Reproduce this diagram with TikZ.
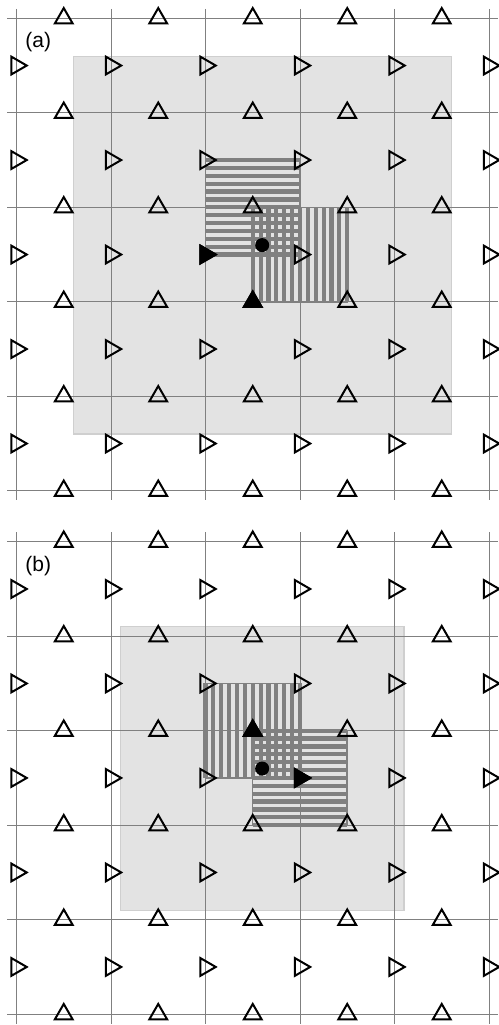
\documentclass[tikz,border=0pt]{standalone}
\usepackage{fontspec}
\setmainfont{Liberation Sans}
\usetikzlibrary{shapes.geometric}

\begin{document}
\begin{tikzpicture}[
    x=94.5pt,
    y=-94.5pt,
    gridline/.style={
        draw=black!50,
        line width=0.9pt
    },
    window/.style={
        fill=black!11,
        draw=black!19,
        line width=1.2pt
    },
    tri/.style={
        regular polygon,
        regular polygon sides=3,
        draw=black,
        line width=2pt,
        minimum size=20.5pt,
        inner sep=0pt,
        outer sep=0pt
    },
    tri up/.style={tri},
    tri right/.style={tri, rotate=-90},
    solid tri/.style={fill=black},
    stripe/.style={
        draw=black!50,
        line width=4.2pt
    },
    patch/.style={
        draw=black!50,
        line width=1.5pt
    },
    spot/.style={
        circle,
        fill=black,
        minimum size=14pt,
        inner sep=0pt
    },
    panel label/.style={
        font=\fontsize{21}{21}\selectfont,
        inner sep=0pt,
        anchor=base west
    }
]

\useasboundingbox (-0.1746,-0.1937) rectangle (5.1058,10.6534);

% --- Window (a): 4x4 around the spot ---
\begin{scope}
    \draw[window] (0.6,0.4) rectangle (4.6,4.4);
\end{scope}

% --- Window (b): 3x3 around the spot ---
\begin{scope}[shift={(0,5.539)}]
    \draw[window] (1.1,0.9) rectangle (4.1,3.9);
\end{scope}

% --- Grid, both panels ---
\foreach \p/\off in {a/0,b/5.539} {
    \begin{scope}[shift={(0,\off)}]
        \foreach \k in {0,...,5} {
            \draw[gridline] (-0.1,\k) -- (5.1,\k);
            \draw[gridline] (\k,-0.1) -- (\k,5.1);
        }
    \end{scope}
}

% --- Striped patches (a) ---
\begin{scope}
    \draw[patch] (2,1.5) rectangle (3,2.5);
    \foreach \k in {0,...,12}
        \draw[stripe] (2,1.5+\k/12) -- (3,1.5+\k/12);
    \draw[patch] (2.5,2) rectangle (3.5,3);
    \foreach \k in {0,...,12}
        \draw[stripe] (2.5+\k/12,2) -- (2.5+\k/12,3);
\end{scope}

% --- Striped patches (b) ---
\begin{scope}[shift={(0,5.539)}]
    \draw[patch] (2,1.5) rectangle (3,2.5);
    \foreach \k in {0,...,12}
        \draw[stripe] (2+\k/12,1.5) -- (2+\k/12,2.5);
    \draw[patch] (2.5,2) rectangle (3.5,3);
    \foreach \k in {0,...,12}
        \draw[stripe] (2.5,2+\k/12) -- (3.5,2+\k/12);
\end{scope}

% --- Triangle lattice, both panels ---
\foreach \p/\off in {a/0,b/5.539} {
    \begin{scope}[shift={(0,\off)}]
        \foreach \i in {0,...,4}
            \foreach \j in {0,...,5}
                \node[tri up] (\p-up-\i-\j) at (\i+0.5,\j) {};
        \foreach \i in {0,...,5}
            \foreach \j in {0,...,4}
                \node[tri right] (\p-rt-\i-\j) at (\i,\j+0.5) {};
        \node[panel label] (\p-label) at (0.092,0.311) {(\p)};
    \end{scope}
}

% --- Marked sites (a) ---
\begin{scope}
    \node[tri right, solid tri] (a-mark-rt) at (2,2.5) {};
    \node[tri up, solid tri] (a-mark-up) at (2.5,3) {};
    \node[spot] (a-spot) at (2.6,2.4) {};
\end{scope}

% --- Marked sites (b) ---
\begin{scope}[shift={(0,5.539)}]
    \node[tri up, solid tri] (b-mark-up) at (2.5,2) {};
    \node[tri right, solid tri] (b-mark-rt) at (3,2.5) {};
    \node[spot] (b-spot) at (2.6,2.4) {};
\end{scope}

\end{tikzpicture}
\end{document}
